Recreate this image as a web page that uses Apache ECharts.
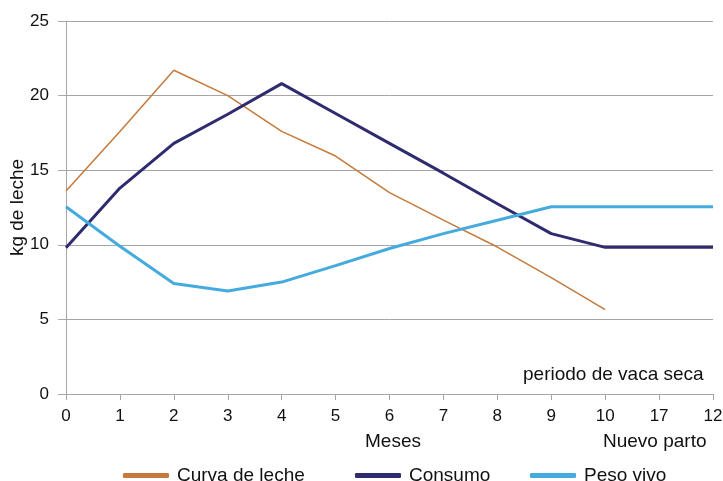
<!DOCTYPE html>
<html>
<head>
<meta charset="utf-8">
<script src="https://cdn.jsdelivr.net/npm/echarts@6/dist/echarts.min.js"></script>
<style>
html,body{margin:0;padding:0;background:#fff;}
#chart{width:723px;height:481px;}
</style>
</head>
<body>
<div id="chart"></div>
<script>
var categories = ['0','1','2','3','4','5','6','7','8','9','10','17','12'];
var curvaLeche = [13.6, 17.6, 21.7, 20.0, 17.6, 15.95, 13.5, 11.65, 9.85, 7.8, 5.65, null, null];
var consumo = [9.8, 13.8, 16.8, 18.75, 20.8, 18.8, 16.8, 14.8, 12.75, 10.75, 9.83, 9.83, 9.83];
var pesoVivo = [12.55, 9.9, 7.4, 6.9, 7.5, 8.6, 9.75, 10.75, 11.65, 12.55, 12.55, 12.55, 12.55];
var seriesNames = ['Curva de leche', 'Consumo', 'Peso vivo'];
var yTicks = [0, 5, 10, 15, 20, 25];

var FONT = '"Liberation Sans", Arial, sans-serif';
var legendLefts = [123, 355, 530];
function mkLegend(name, left) {
  return {
    top: 466,
    left: left,
    padding: 0,
    itemWidth: 46,
    itemHeight: 5,
    icon: 'roundRect',
    textStyle: {fontFamily: FONT, fontSize: 19, color: '#111', padding: [0, 0, 0, 3]},
    data: [name]
  };
}
var chart = echarts.init(document.getElementById('chart'));
chart.setOption({
  animation: false,
  backgroundColor: '#fff',
  grid: {left: 66, right: 10, top: 21, bottom: 87, containLabel: false, outerBoundsMode: 'none'},
  legend: seriesNames.map(function (n, i) { return mkLegend(n, legendLefts[i]); }),
  xAxis: {
    type: 'category',
    data: categories,
    boundaryGap: false,
    axisLine: {lineStyle: {color: '#A6A6A6', width: 1}},
    axisTick: {show: true, alignWithLabel: true, length: 6, lineStyle: {color: '#A6A6A6'}},
    axisLabel: {fontFamily: FONT, fontSize: 17, color: '#111', margin: 14}
  },
  yAxis: {
    type: 'value',
    min: yTicks[0],
    max: yTicks[yTicks.length - 1],
    interval: 5,
    name: 'kg de leche',
    nameLocation: 'middle',
    nameGap: 39,
    nameMoveOverlap: false,
    nameTextStyle: {fontFamily: FONT, fontSize: 19, color: '#111'},
    axisLine: {show: true, lineStyle: {color: '#A6A6A6', width: 1}},
    axisTick: {show: true, length: 8, lineStyle: {color: '#A6A6A6'}},
    axisLabel: {fontFamily: FONT, fontSize: 17, color: '#111', margin: 17},
    splitLine: {show: true, lineStyle: {color: '#A6A6A6', width: 1}}
  },
  graphic: [
    {type: 'text', x: 523, y: 375, style: {text: 'periodo de vaca seca', font: '19px ' + FONT, fill: '#111', textVerticalAlign: 'middle'}},
    {type: 'text', x: 365, y: 442, style: {text: 'Meses', font: '19px ' + FONT, fill: '#111', textVerticalAlign: 'middle'}},
    {type: 'text', x: 603, y: 442, style: {text: 'Nuevo parto', font: '19px ' + FONT, fill: '#111', textVerticalAlign: 'middle'}}
  ],
  series: [
    {name: seriesNames[0], type: 'line', data: curvaLeche, symbol: 'none', color: '#C57A3C',
     lineStyle: {width: 1.5, color: '#C57A3C'}},
    {name: seriesNames[1], type: 'line', data: consumo, symbol: 'none', color: '#2E2B6F',
     lineStyle: {width: 3, color: '#2E2B6F'}},
    {name: seriesNames[2], type: 'line', data: pesoVivo, symbol: 'none', color: '#45AADE',
     lineStyle: {width: 3, color: '#45AADE'}}
  ]
});
</script>
</body>
</html>
